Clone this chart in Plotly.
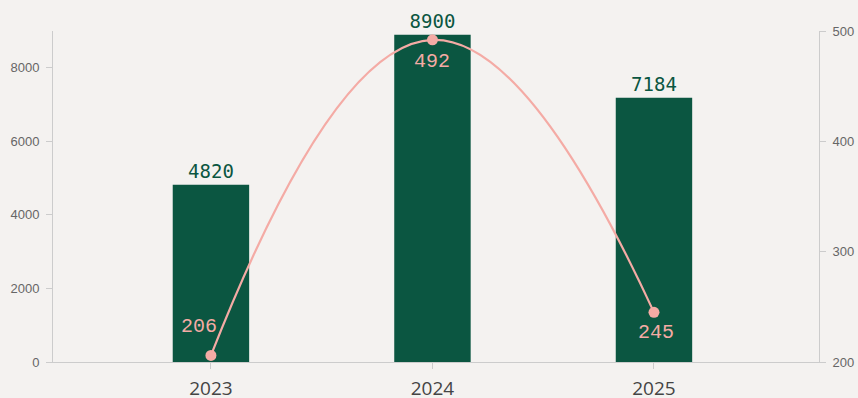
import plotly.graph_objects as go

years = ["2023", "2024", "2025"]
bar_values = [4820, 8900, 7184]
line_values = [206, 492, 245]
# label offsets (px) for the line value labels
label_dx = [-12, 0, 2]
label_dy = [29, -22, -20]

BG = "#f4f2f0"
GREEN = "#0b5641"
PINK = "#f4aba5"

fig = go.Figure()
fig.add_trace(go.Bar(
    x=years, y=bar_values, width=0.345,
    marker=dict(color=GREEN, line=dict(width=0)),
    text=[str(v) for v in bar_values], textposition="outside",
    textfont=dict(family="DejaVu Sans Mono", size=19, color=GREEN),
    cliponaxis=False, showlegend=False, yaxis="y", hoverinfo="skip",
))
fig.add_trace(go.Scatter(
    x=years, y=line_values, mode="lines+markers",
    line=dict(color=PINK, width=2.2, shape="spline", smoothing=1.3),
    marker=dict(color=PINK, size=11),
    cliponaxis=False, showlegend=False, yaxis="y2", hoverinfo="skip",
))

annotations = []
for i, (v, dx, dy) in enumerate(zip(line_values, label_dx, label_dy)):
    annotations.append(dict(
        x=i, y=v, xref="x", yref="y2", text=str(v), showarrow=False,
        xshift=dx, yshift=dy, xanchor="center", yanchor="middle",
        font=dict(family="Liberation Mono", size=20, color=PINK),
    ))

axis_common = dict(
    showline=True, linecolor="#cccccc", linewidth=1,
    ticks="outside", ticklen=6, tickcolor="#cccccc",
    showgrid=False, zeroline=False, automargin=False,
)

fig.update_layout(
    width=858, height=398,
    margin=dict(l=53, r=39, t=31, b=36),
    paper_bgcolor=BG, plot_bgcolor=BG,
    font=dict(family="Liberation Sans, Arial", color="#666"),
    annotations=annotations,
    xaxis=dict(
        type="category", range=[-0.713, 2.745],
        tickfont=dict(size=19, color="#444", family="Open Sans"),
        ticklabelstandoff=3,
        **axis_common,
    ),
    yaxis=dict(
        range=[0, 9000], tickvals=[0, 2000, 4000, 6000, 8000],
        tickfont=dict(size=13, color="#666"), ticklabelstandoff=4,
        **axis_common,
    ),
    yaxis2=dict(
        overlaying="y", side="right",
        range=[200, 500], tickvals=[200, 300, 400, 500],
        tickfont=dict(size=13, color="#666"), ticklabelstandoff=4,
        **axis_common,
    ),
)

fig.write_html(
    "out.html",
    config={"displayModeBar": False},
    post_script="document.body.style.margin='0';document.body.style.background='" + BG + "';",
)
